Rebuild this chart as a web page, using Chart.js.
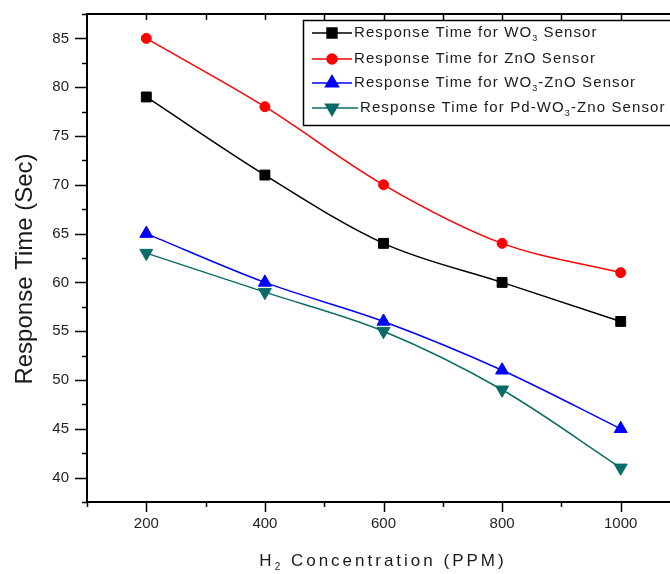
<!DOCTYPE html>
<html>
<head>
<meta charset="utf-8">
<script src="https://cdn.jsdelivr.net/npm/chart.js@4.4.1/dist/chart.umd.min.js"></script>
<style>
  html, body { margin: 0; padding: 0; background: #fff; overflow: hidden; }
</style>
</head>
<body>
<canvas id="chartResponseTime" width="690" height="574"></canvas>
<script>
// dados
const concentrations = [200, 400, 600, 800, 1000];
const timeWO3 = [79, 71, 64, 60, 56];
const timeZnO = [85, 78, 70, 64, 61];
const timeWO3ZnO = [65, 60, 56, 51, 45];
const timePdWO3ZnO = [63, 59, 55, 49, 41];
const xTickLabels = [200, 400, 600, 800, 1000];
const yTickLabels = [40, 45, 50, 55, 60, 65, 70, 75, 80, 85];

const FONT = '"Liberation Sans", Arial, sans-serif';

function pairs(values) {
    return concentrations.map((c, i) => ({ x: c, y: values[i] }));
}

// texto com subscrito: "WO_3" -> WO + 3 pequeno
function drawSubText(ctx, text, x, y, size, spacing) {
    const parts = text.split(/_(\d)/);
    ctx.letterSpacing = spacing + 'px';
    ctx.textBaseline = 'middle';
    ctx.textAlign = 'left';
    let cx = x;
    parts.forEach((p, i) => {
        if (i % 2 === 1) {
            ctx.font = Math.round(size * 0.6) + 'px ' + FONT;
            ctx.fillText(p, cx, y + size * 0.38);
        } else {
            ctx.font = size + 'px ' + FONT;
            ctx.fillText(p, cx, y);
        }
        cx += ctx.measureText(p).width;
    });
    ctx.letterSpacing = '0px';
    return cx - x;
}

function measureSubText(ctx, text, size, spacing) {
    ctx.save();
    ctx.globalAlpha = 0;
    const w = drawSubText(ctx, text, 0, 0, size, spacing);
    ctx.restore();
    return w;
}

// moldura, ticks, títulos e legenda no estilo Origin
const framePlugin = {
    id: 'frame',
    afterDraw(chart) {
        const ctx = chart.ctx;
        const xs = chart.scales.x;
        const ys = chart.scales.y;
        const a = chart.chartArea;
        ctx.save();
        ctx.strokeStyle = '#000';
        ctx.fillStyle = '#000';

        // linhas de cima e da direita
        ctx.lineWidth = 2;
        ctx.beginPath();
        ctx.moveTo(a.left, a.top);
        ctx.lineTo(a.right, a.top);
        ctx.lineTo(a.right, a.bottom);
        ctx.stroke();

        ctx.lineWidth = 1.5;
        ctx.beginPath();
        ys.ticks.forEach(t => {
            const py = Math.round(ys.getPixelForValue(t.value)) + 0.5;
            const major = yTickLabels.includes(t.value);
            ctx.moveTo(a.left, py);
            ctx.lineTo(a.left - (major ? 12 : 5), py);
            ctx.moveTo(a.right, py);
            ctx.lineTo(a.right - (major ? 8 : 4), py);
        });
        xs.ticks.forEach(t => {
            const px = Math.round(xs.getPixelForValue(t.value)) + 0.5;
            const major = xTickLabels.includes(t.value);
            ctx.moveTo(px, a.bottom);
            ctx.lineTo(px, a.bottom + (major ? 10 : 5));
            if (t.value > xs.min && t.value < xs.max) {
                ctx.moveTo(px, a.top);
                ctx.lineTo(px, a.top + 6);
            }
        });
        ctx.stroke();

        // títulos dos eixos
        ctx.fillStyle = '#1a1a1a';
        ctx.save();
        ctx.translate(25, 269);
        ctx.rotate(-Math.PI / 2);
        const yTitle = 'Response Time (Sec)';
        const wy = measureSubText(ctx, yTitle, 24, 0);
        drawSubText(ctx, yTitle, -wy / 2, 0, 24, 0);
        ctx.restore();

        const xTitle = 'H_2 Concentration (PPM)';
        const wx = measureSubText(ctx, xTitle, 17, 3);
        drawSubText(ctx, xTitle, 383 - wx / 2, 561, 17, 3);

        // legenda
        const box = { left: 303, top: 20, right: a.right, bottom: 125 };
        ctx.fillStyle = '#fff';
        ctx.fillRect(box.left, box.top, box.right - box.left, box.bottom - box.top);
        ctx.lineWidth = 1.5;
        ctx.strokeStyle = '#000';
        ctx.strokeRect(box.left + 0.5, box.top + 0.5, box.right - box.left, box.bottom - box.top);

        const rows = [33, 59, 83, 108];
        const lineEnds = [352, 352, 352, 358];
        chart.data.datasets.forEach((ds, i) => {
            const y = rows[i];
            ctx.strokeStyle = ds.borderColor;
            ctx.lineWidth = 1.5;
            ctx.beginPath();
            ctx.moveTo(312, y);
            ctx.lineTo(lineEnds[i], y);
            ctx.stroke();
            ctx.fillStyle = ds.backgroundColor;
            Chart.helpers.drawPoint(ctx, {
                pointStyle: ds.pointStyle,
                radius: ds.pointRadius,
                rotation: ds.pointRotation || 0,
                borderWidth: 1
            }, 332, y);
            ctx.fillStyle = '#1a1a1a';
            drawSubText(ctx, ds.label, lineEnds[i] + 2, y, 15, 1.1);
        });
        ctx.restore();
    }
};

const ctxResp = document.getElementById('chartResponseTime').getContext('2d');
new Chart(ctxResp, {
    type: 'line',
    data: {
        datasets: [{
            label: 'Response Time for WO_3 Sensor',
            data: pairs(timeWO3),
            borderColor: '#000000',
            backgroundColor: '#000000',
            pointStyle: 'rect',
            pointRadius: 7
        }, {
            label: 'Response Time for ZnO Sensor',
            data: pairs(timeZnO),
            borderColor: '#ff0000',
            backgroundColor: '#ff0000',
            pointStyle: 'circle',
            pointRadius: 5
        }, {
            label: 'Response Time for WO_3-ZnO Sensor',
            data: pairs(timeWO3ZnO),
            borderColor: '#0000ff',
            backgroundColor: '#0000ff',
            pointStyle: 'triangle',
            pointRadius: 7.5
        }, {
            label: 'Response Time for Pd-WO_3-Zno Sensor',
            data: pairs(timePdWO3ZnO),
            borderColor: '#0b6b66',
            backgroundColor: '#0b6b66',
            pointStyle: 'triangle',
            pointRotation: 180,
            pointRadius: 7.5
        }]
    },
    options: {
        responsive: false,
        animation: false,
        layout: { autoPadding: false, padding: { top: 14, right: 10, left: 0, bottom: 0 } },
        elements: {
            line: { borderWidth: 1.5, cubicInterpolationMode: 'monotone' },
            point: { borderWidth: 1, hoverRadius: 7 }
        },
        plugins: {
            legend: { display: false },
            tooltip: { enabled: false }
        },
        scales: {
            x: {
                type: 'linear',
                min: 100,
                max: 1100,
                afterFit: s => { s.height = 72; s.paddingLeft = 0; s.paddingRight = 0; },
                grid: { display: false, drawTicks: false },
                border: { display: true, color: '#000', width: 2 },
                ticks: {
                    stepSize: 100,
                    autoSkip: false,
                    maxRotation: 0,
                    padding: 13,
                    color: '#222',
                    font: { family: FONT, size: 15 },
                    callback: v => xTickLabels.includes(v) ? String(v) : ''
                }
            },
            y: {
                min: 37.5,
                max: 87.5,
                afterFit: s => { s.width = 87; s.paddingTop = 0; s.paddingBottom = 0; },
                grid: { display: false, drawTicks: false },
                border: { display: true, color: '#000', width: 2 },
                ticks: {
                    stepSize: 2.5,
                    autoSkip: false,
                    padding: 18,
                    color: '#222',
                    font: { family: FONT, size: 15 },
                    callback: v => yTickLabels.includes(v) ? String(v) : ''
                }
            }
        }
    },
    plugins: [framePlugin]
});
</script>
</body>
</html>
